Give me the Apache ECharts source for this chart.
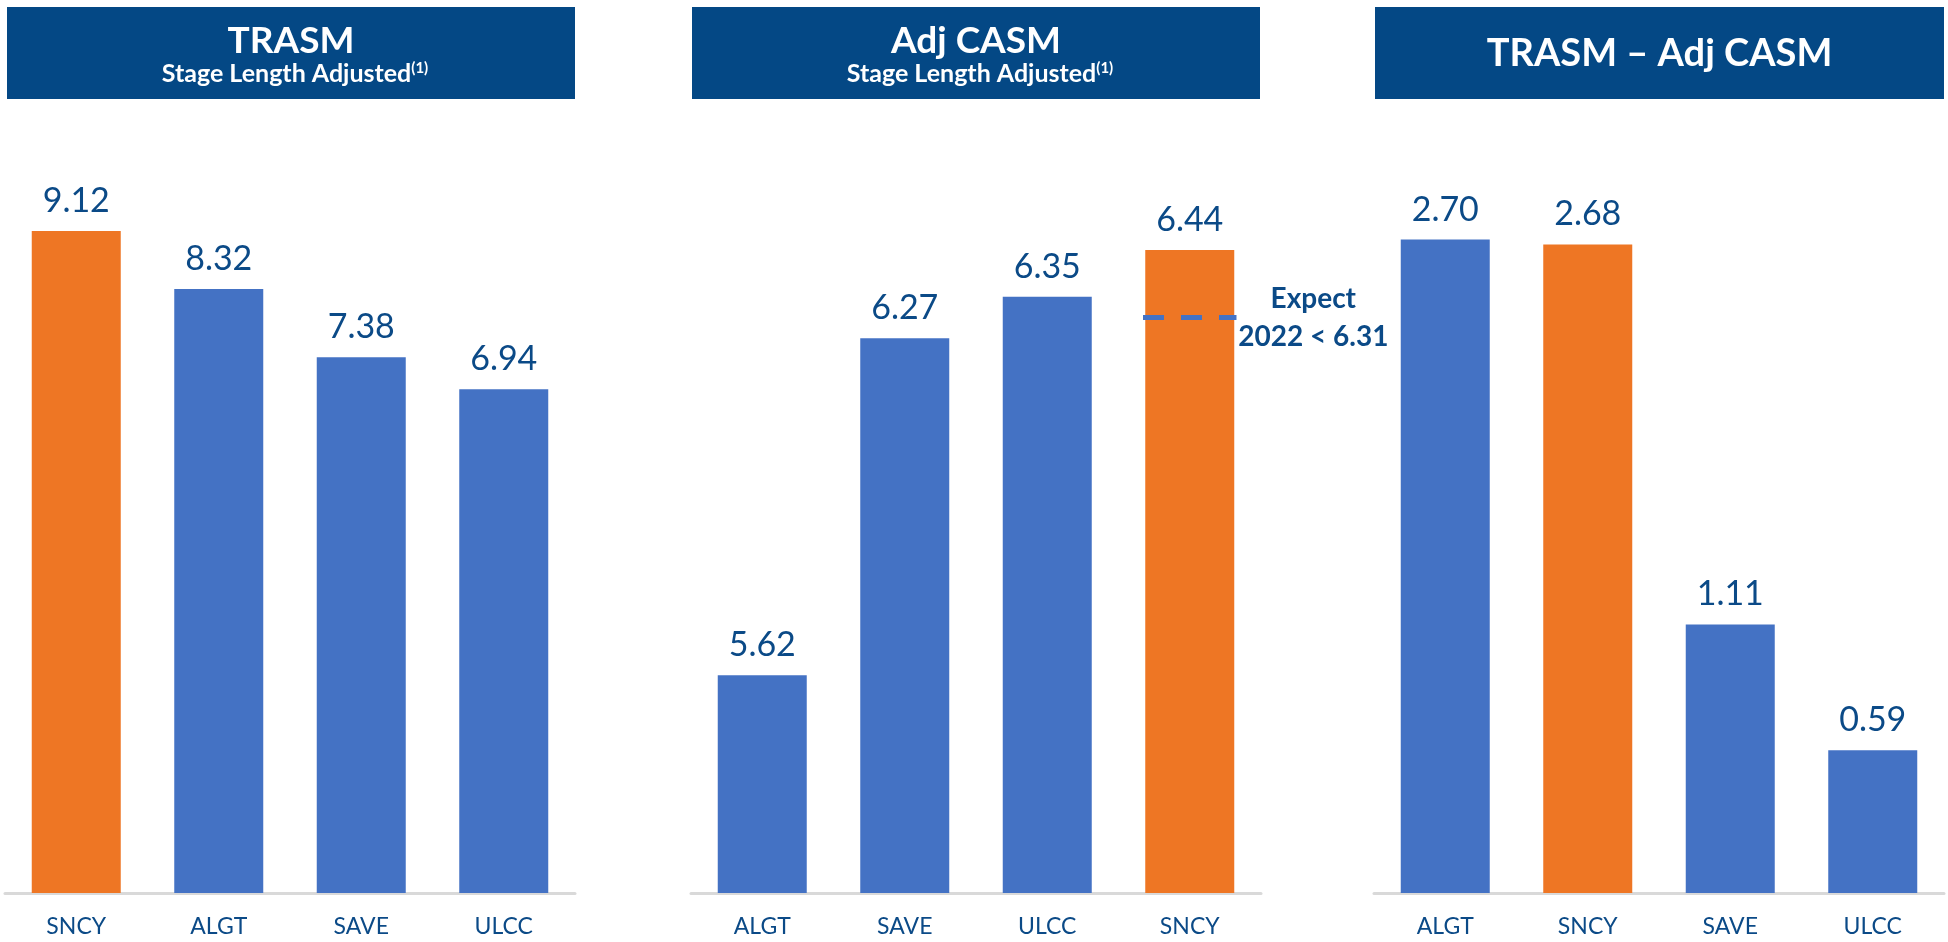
<!DOCTYPE html>
<html>
<head>
<meta charset="utf-8">
<script src="https://cdn.jsdelivr.net/npm/echarts@6/dist/echarts.min.js"></script>
<style>
  html, body { margin: 0; padding: 0; background: #fff; }
  #container { width: 1948px; height: 942px; }
</style>
</head>
<body>
<div id="container"></div>
<script>
// panel 1 - TRASM
var trasmCats = ['SNCY', 'ALGT', 'SAVE', 'ULCC'];
var trasmVals = [9.12, 8.32, 7.38, 6.94];
// panel 2 - Adj CASM
var casmCats = ['ALGT', 'SAVE', 'ULCC', 'SNCY'];
var casmVals = [5.62, 6.27, 6.35, 6.44];
// panel 3 - TRASM - Adj CASM
var spreadCats = ['ALGT', 'SNCY', 'SAVE', 'ULCC'];
var spreadVals = [2.70, 2.68, 1.11, 0.59];
// 2022 expectation for SNCY adj CASM
var expectCat = 'SNCY';
var expectVal = 6.31;
var expectYear = '2022';

var titles = ['TRASM', 'Adj CASM', 'TRASM \u2013 Adj CASM'];
var subTitle = 'Stage Length Adjusted';
var axisRanges = [[0, 10], [5.2, 6.6], [0, 3]];

var ORANGE = '#EE7624';
var BLUE = '#4472C4';
var NAVY = '#044885';
var TEXT = '#0B4A87';
var FONT = 'Lato';

var dom = document.getElementById('container');
var myChart = echarts.init(dom);

var gridLefts = [5, 691, 1374];
var boxes = [[7, 575], [692, 1260], [1375, 1944]];

function barSeries(idx, vals) {
    return {
        type: 'bar',
        xAxisIndex: idx,
        yAxisIndex: idx,
        barWidth: 89,
        data: vals,
        itemStyle: {
            color: function(p) { return p.name === 'SNCY' ? ORANGE : BLUE; }
        },
        label: {
            show: true,
            position: 'top',
            distance: 13,
            fontFamily: FONT,
            fontSize: 34,
            color: TEXT,
            formatter: function(p) { return p.value.toFixed(2); }
        }
    };
}

var graphics = [];
for (var i = 0; i < 3; i++) {
    var b = boxes[i];
    var cx = (b[0] + b[1]) / 2;
    graphics.push({
        type: 'rect',
        shape: { x: b[0], y: 7, width: b[1] - b[0], height: 92 },
        style: { fill: NAVY },
        z: 1
    });
    if (i < 2) {
        graphics.push({
            type: 'text', z: 2,
            style: {
                x: cx, y: 41, text: titles[i], align: 'center', verticalAlign: 'middle',
                fill: '#fff', font: 'bold 37px ' + FONT
            }
        });
        graphics.push({
            type: 'text', z: 2,
            style: {
                x: cx + 4, y: 74, align: 'center', verticalAlign: 'middle',
                text: '{a|' + subTitle + '}{b|(1)}',
                rich: {
                    a: { fill: '#fff', fontFamily: FONT, fontWeight: 'bold', fontSize: 25, lineHeight: 27 },
                    b: { fill: '#fff', fontFamily: FONT, fontWeight: 'bold', fontSize: 15, lineHeight: 15, verticalAlign: 'top' }
                }
            }
        });
    } else {
        graphics.push({
            type: 'text', z: 2,
            style: {
                x: cx, y: 54, text: titles[i], align: 'center', verticalAlign: 'middle',
                fill: '#fff', font: 'bold 38px ' + FONT
            }
        });
    }
}

var grids = [], xAxes = [], yAxes = [];
var cats = [trasmCats, casmCats, spreadCats];
for (var j = 0; j < 3; j++) {
    grids.push({ left: gridLefts[j], top: 167, width: 570, height: 726 });
    xAxes.push({
        type: 'category',
        gridIndex: j,
        data: cats[j],
        axisTick: { show: false },
        axisLine: { lineStyle: { color: '#D9D9D9', width: 3 } },
        axisLabel: { fontFamily: FONT, fontSize: 23, color: TEXT, margin: 22 }
    });
    yAxes.push({
        type: 'value',
        gridIndex: j,
        min: axisRanges[j][0],
        max: axisRanges[j][1],
        show: false,
        splitLine: { show: false }
    });
}

option = {
    backgroundColor: '#fff',
    animation: false,
    graphic: graphics,
    grid: grids,
    xAxis: xAxes,
    yAxis: yAxes,
    series: [
        barSeries(0, trasmVals),
        barSeries(1, casmVals),
        barSeries(2, spreadVals),
        {
            type: 'custom',
            xAxisIndex: 1,
            yAxisIndex: 1,
            z: 5,
            data: [[expectCat, expectVal]],
            encode: { x: 0, y: 1 },
            renderItem: function(params, api) {
                var pt = api.coord([api.value(0), api.value(1)]);
                var bw = api.size([1, 0])[0];
                var half = bw * 0.328;
                return {
                    type: 'group',
                    children: [{
                        type: 'line',
                        shape: { x1: pt[0] - half, y1: pt[1], x2: pt[0] + half, y2: pt[1] },
                        style: { stroke: BLUE, lineWidth: 5, lineDash: [21, 17] }
                    }, {
                        type: 'text',
                        style: {
                            x: pt[0] + bw * 0.867, y: pt[1] - 18, text: 'Expect',
                            align: 'center', verticalAlign: 'middle',
                            fill: TEXT, font: 'bold 28px ' + FONT
                        }
                    }, {
                        type: 'text',
                        style: {
                            x: pt[0] + bw * 0.867, y: pt[1] + 20,
                            text: expectYear + ' < ' + expectVal.toFixed(2),
                            align: 'center', verticalAlign: 'middle',
                            fill: TEXT, font: 'bold 28px ' + FONT
                        }
                    }]
                };
            }
        }
    ]
};

if (option && typeof option === 'object') {
    myChart.setOption(option, true);
}
</script>
</body>
</html>
